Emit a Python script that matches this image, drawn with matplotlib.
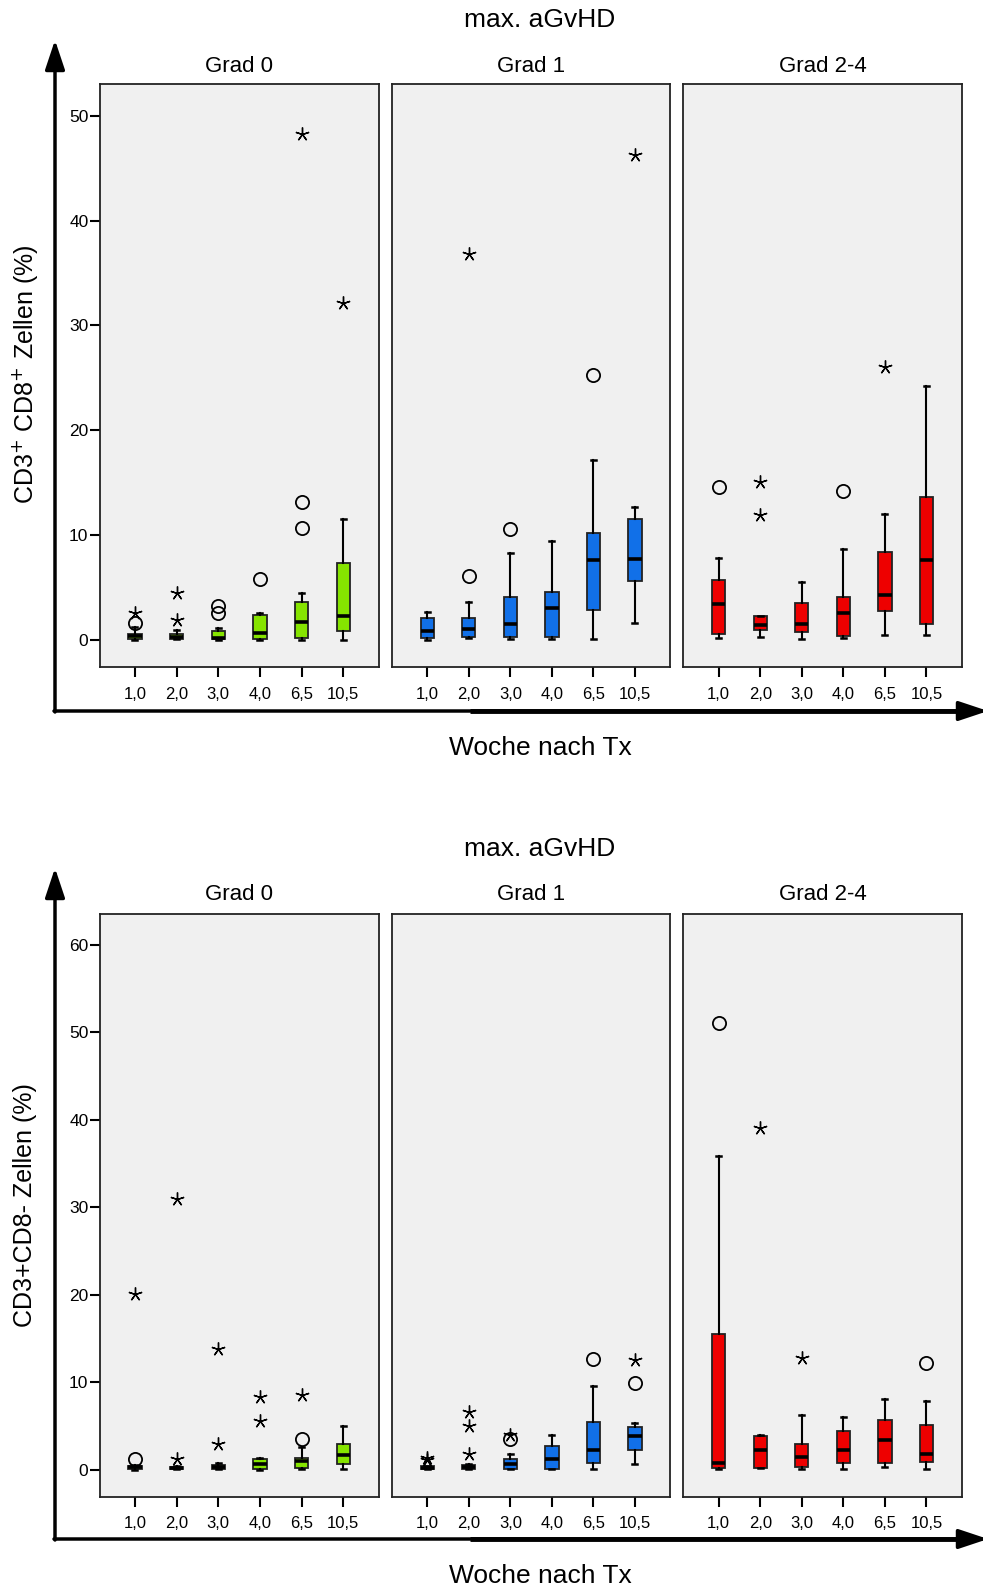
import matplotlib
matplotlib.use("Agg")
import matplotlib.pyplot as plt

plt.rcParams['font.family'] = ['Liberation Sans', 'DejaVu Sans']

# ---------------- data ----------------
weeks = ["1,0", "2,0", "3,0", "4,0", "6,5", "10,5"]
groups = ["Grad 0", "Grad 1", "Grad 2-4"]
group_colors = ["#86e400", "#1170e8", "#ee0000"]

# Top chart: CD3+ CD8+ Zellen (%)
top_med = [[0.35, 0.3, 0.2, 0.7, 1.7, 2.25],
           [0.83, 1.08, 1.5, 3.0, 7.6, 7.7],
           [3.4, 1.43, 1.52, 2.57, 4.25, 7.62]]
top_q1 = [[0.06, 0.1, 0.06, 0.06, 0.2, 0.86],
          [0.16, 0.32, 0.32, 0.25, 2.9, 5.65],
          [0.54, 0.92, 0.73, 0.41, 2.76, 1.52]]
top_q3 = [[0.6, 0.55, 0.9, 2.35, 3.65, 7.3],
          [2.06, 2.13, 4.13, 4.57, 10.2, 11.5],
          [5.75, 2.29, 3.56, 4.06, 8.41, 13.6]]
top_wlo = [[0.02, 0.05, 0.03, 0.0, 0.0, 0.0],
           [0.03, 0.2, 0.1, 0.13, 0.06, 1.6],
           [0.16, 0.32, 0.13, 0.16, 0.48, 0.48]]
top_whi = [[1.2, 0.95, 1.1, 2.6, 4.5, 11.55],
           [2.67, 3.6, 8.25, 9.43, 17.15, 12.7],
           [7.8, 2.3, 5.5, 8.63, 12.0, 24.2]]
# outliers: (week index, value)
top_circles = [[(0, 1.65), (2, 3.2), (2, 2.6), (3, 5.8), (4, 13.2), (4, 10.7)],
               [(1, 6.1), (2, 10.57), (4, 25.3)],
               [(0, 14.6), (3, 14.2)]]
top_stars = [[(0, 2.6), (1, 4.44), (1, 1.87), (4, 48.3), (5, 32.1)],
             [(1, 36.8), (5, 46.3)],
             [(1, 15.1), (1, 11.9), (4, 26.0)]]

# Bottom chart: CD3+CD8- Zellen (%)
bot_med = [[0.25, 0.2, 0.25, 0.6, 1.0, 1.65],
           [0.2, 0.3, 0.69, 1.26, 2.3, 3.8],
           [0.8, 2.22, 1.46, 2.22, 3.37, 1.84]]
bot_q1 = [[0.02, 0.05, 0.05, 0.05, 0.23, 0.61],
          [0.08, 0.11, 0.11, 0.11, 0.77, 2.26],
          [0.23, 0.23, 0.34, 0.77, 0.8, 0.84]]
bot_q3 = [[0.4, 0.35, 0.5, 1.26, 1.38, 2.9],
          [0.38, 0.57, 1.19, 2.68, 5.4, 4.83],
          [15.55, 3.83, 2.9, 4.44, 5.7, 5.13]]
bot_wlo = [[0.0, 0.02, 0.03, 0.0, 0.04, 0.04],
           [0.05, 0.08, 0.1, 0.1, 0.11, 0.69],
           [0.1, 0.23, 0.04, 0.08, 0.34, 0.11]]
bot_whi = [[0.5, 0.4, 0.8, 1.35, 2.6, 5.0],
           [0.45, 0.6, 1.76, 3.95, 9.58, 5.3],
           [35.8, 4.0, 6.25, 6.05, 8.1, 7.8]]
bot_circles = [[(0, 1.26), (4, 3.5)],
               [(2, 3.56), (4, 12.7), (5, 9.85)],
               [(0, 51.1), (5, 12.2)]]
bot_stars = [[(0, 20.1), (1, 30.9), (1, 1.26), (2, 2.9), (2, 13.8), (3, 5.55), (3, 8.3), (4, 8.5)],
             [(0, 1.34), (0, 1.07), (1, 1.84), (1, 5.0), (1, 6.6), (2, 3.95), (5, 12.5)],
             [(1, 39.0), (2, 12.8)]]

# ---------------- layout ----------------
W, H = 983, 1592
fig = plt.figure(figsize=(W / 100, H / 100), dpi=100)

# overlay for annotations in pixel coords
ov = fig.add_axes([0, 0, 1, 1], zorder=-1)
ov.set_xlim(0, W)
ov.set_ylim(H, 0)
ov.axis('off')

panel_x = [(99.5, 378.8), (392.0, 670.2), (683.4, 961.7)]
charts = [
    dict(y0=84.3, y1=667.2, ylim=(-2.6, 53.0), yticks=[0, 10, 20, 30, 40, 50],
         med=top_med, q1=top_q1, q3=top_q3, wlo=top_wlo, whi=top_whi,
         circles=top_circles, stars=top_stars,
         ylabel="CD3$^{+}$ CD8$^{+}$ Zellen (%)", ylab_y=374,
         title_y=20, grad_y=66, xlab_y=748, arrow_y=711, arrow_top=40),
    dict(y0=914.0, y1=1496.8, ylim=(-3.1, 63.5), yticks=[0, 10, 20, 30, 40, 50, 60],
         med=bot_med, q1=bot_q1, q3=bot_q3, wlo=bot_wlo, whi=bot_whi,
         circles=bot_circles, stars=bot_stars,
         ylabel="CD3+CD8- Zellen (%)", ylab_y=1205,
         title_y=849, grad_y=895, xlab_y=1576, arrow_y=1539, arrow_top=868),
]

positions = list(range(1, len(weeks) + 1))

for ch in charts:
    for g in range(3):
        x0, x1 = panel_x[g]
        ax = fig.add_axes([x0 / W, 1 - ch['y1'] / H, (x1 - x0) / W, (ch['y1'] - ch['y0']) / H])
        ax.set_facecolor('#f0f0f0')
        stats = []
        for i in range(len(weeks)):
            stats.append(dict(med=ch['med'][g][i], q1=ch['q1'][g][i], q3=ch['q3'][g][i],
                              whislo=ch['wlo'][g][i], whishi=ch['whi'][g][i], fliers=[]))
        ax.bxp(stats, positions=positions, widths=0.32, patch_artist=True,
               showfliers=False, capwidths=0.12,
               boxprops=dict(facecolor=group_colors[g], edgecolor='#222222', linewidth=1.3),
               medianprops=dict(color='black', linewidth=2.6),
               whiskerprops=dict(color='black', linewidth=1.5),
               capprops=dict(color='black', linewidth=1.8))
        if ch['circles'][g]:
            cx = [positions[i] for i, v in ch['circles'][g]]
            cy = [v for i, v in ch['circles'][g]]
            ax.plot(cx, cy, linestyle='none', marker='o', markersize=9.5,
                    markerfacecolor='none', markeredgecolor='black', markeredgewidth=1.3, zorder=5)
        if ch['stars'][g]:
            sx = [positions[i] for i, v in ch['stars'][g]]
            sy = [v for i, v in ch['stars'][g]]
            ax.plot(sx, sy, linestyle='none', marker=(5, 2, 0), markersize=10,
                    markeredgecolor='black', markeredgewidth=1.0, zorder=5)
        ax.set_xlim(0.15, 6.85)
        ax.set_ylim(*ch['ylim'])
        ax.set_xticks(positions)
        ax.set_xticklabels(weeks, fontsize=12)
        ax.tick_params(axis='x', length=7, width=1.5, pad=7, direction='out')
        if g == 0:
            ax.set_yticks(ch['yticks'])
            ax.set_yticklabels([str(t) for t in ch['yticks']], fontsize=12.5)
            ax.tick_params(axis='y', length=7, width=1.5, pad=1, direction='out')
        else:
            ax.set_yticks([])
        for s in ax.spines.values():
            s.set_linewidth(1.3)
            s.set_color('#222222')
        ov.text((x0 + x1) / 2, ch['grad_y'], groups[g], ha='center', va='center', fontsize=16)

    ov.text(540, ch['title_y'], "max. aGvHD", ha='center', va='center', fontsize=19)
    ov.text(540, ch['xlab_y'], "Woche nach Tx", ha='center', va='center', fontsize=19)
    ov.text(25, ch['ylab_y'], ch['ylabel'], ha='center', va='center', fontsize=18, rotation=90)
    ay = ch['arrow_y']
    ov.annotate('', xy=(55, ch['arrow_top']), xytext=(55, ay + 1), annotation_clip=False,
                arrowprops=dict(arrowstyle='-|>,head_length=1.5,head_width=0.5', lw=2.5,
                                color='black', shrinkA=0, shrinkB=0, mutation_scale=12))
    ov.annotate('', xy=(988, ay), xytext=(54, ay), annotation_clip=False,
                arrowprops=dict(arrowstyle='-|>,head_length=1.5,head_width=0.5', lw=2.5,
                                color='black', shrinkA=0, shrinkB=0, mutation_scale=12))
    ov.plot([470, 975], [ay, ay], color='black', lw=3.5, solid_capstyle='butt')

fig.savefig("out.png", dpi=100)
